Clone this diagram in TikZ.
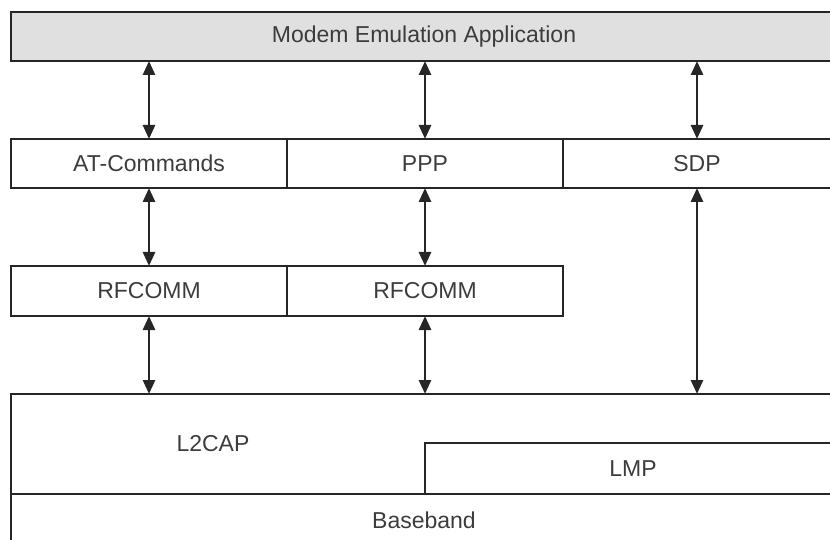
\documentclass[tikz,border=0pt]{standalone}
\usepackage{fontspec}
\setmainfont{Liberation Sans}
\usetikzlibrary{arrows.meta}
\definecolor{ln}{HTML}{262626}
\definecolor{tx}{HTML}{3C3C3C}
\definecolor{appfill}{HTML}{E0E0E0}
\begin{document}
\begin{tikzpicture}[x=1pt,y=-1pt,
  box/.style={draw=ln, line width=2.8pt, inner sep=0pt, outer sep=0pt,
    font=\fontsize{23}{26}\selectfont, text=tx},
  lbl/.style={inner sep=0pt, font=\fontsize{23}{26}\selectfont, text=tx},
  arr/.style={{Triangle[length=14pt,width=12pt]}-{Triangle[length=14pt,width=12pt]},
    line width=2.8pt, draw=ln}]
\useasboundingbox (0,0) rectangle (830,540);
\clip (0,0) rectangle (830,540);
% top application layer
\node[box, fill=appfill, minimum width=826pt, minimum height=49pt] (app) at (424,36.5) {Modem Emulation Application};
% second row
\node[box, minimum width=276pt, minimum height=49pt] (at) at (149,163.5) {AT-Commands};
\node[box, minimum width=276pt, minimum height=49pt] (ppp) at (425,163.5) {PPP};
\node[box, minimum width=268pt, minimum height=49pt] (sdp) at (697,163.5) {SDP};
% RFCOMM row
\node[box, minimum width=276pt, minimum height=50pt] (rf1) at (149,291) {RFCOMM};
\node[box, minimum width=276pt, minimum height=50pt] (rf2) at (425,291) {RFCOMM};
% L2CAP, LMP, Baseband
\node[box, minimum width=826pt, minimum height=100pt] (l2cap) at (424,444) {};
\node[lbl] (l2caplbl) at (213,444) {L2CAP};
\node[box, minimum width=416pt, minimum height=51pt] (lmp) at (633,468.5) {LMP};
\node[box, minimum width=826pt, minimum height=52pt] (bb) at (424,520) {Baseband};
% connectors
\draw[arr] (app.south -| at.north) -- (at.north);
\draw[arr] (app.south -| ppp.north) -- (ppp.north);
\draw[arr] (app.south -| sdp.north) -- (sdp.north);
\draw[arr] (at.south) -- (rf1.north);
\draw[arr] (ppp.south) -- (rf2.north);
\draw[arr] (sdp.south) -- (sdp.south |- l2cap.north);
\draw[arr] (rf1.south) -- (rf1.south |- l2cap.north);
\draw[arr] (rf2.south) -- (rf2.south |- l2cap.north);
\end{tikzpicture}
\end{document}
